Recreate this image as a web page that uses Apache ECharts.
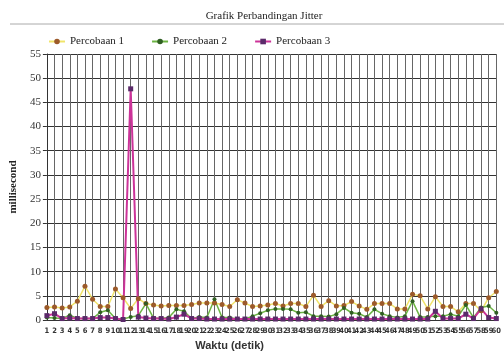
<!DOCTYPE html>
<html>
<head>
<meta charset="utf-8">
<script src="https://cdn.jsdelivr.net/npm/echarts@6/dist/echarts.min.js"></script>
<style>
html, body { margin: 0; padding: 0; background: #fff; }
#chart { width: 504px; height: 356px; }
</style>
</head>
<body>
<div id="chart"></div>
<script>
var detik = [];
for (var i = 1; i <= 60; i++) { detik.push(String(i)); }

var percobaan1 = [2.6, 2.7, 2.5, 2.7, 3.9, 7.0, 4.3, 2.8, 2.8, 6.4, 4.6, 2.4, 4.4, 3.4, 3.1, 2.9, 3.0, 3.0, 3.0, 3.2,
                  3.5, 3.5, 3.5, 3.2, 2.8, 4.2, 3.5, 2.8, 2.9, 3.1, 3.4, 2.9, 3.4, 3.4, 2.8, 5.1, 2.8, 4.0, 2.9, 3.0,
                  3.8, 2.9, 2.2, 3.4, 3.4, 3.4, 2.3, 2.3, 5.3, 5.0, 2.3, 4.8, 2.8, 2.8, 1.7, 3.4, 3.4, 1.9, 4.6, 5.9];
var percobaan2 = [0.5, 0.4, 0.3, 1.0, 0.3, 0.3, 0.3, 1.6, 2.0, 0.3, 0.2, 0.6, 0.9, 3.4, 0.4, 0.3, 0.5, 2.2, 1.8, 0.3,
                  0.6, 0.5, 4.3, 0.5, 0.5, 0.2, 0.2, 0.8, 1.4, 2.0, 2.3, 2.3, 2.2, 1.5, 1.6, 0.8, 0.8, 0.7, 1.2, 2.5,
                  1.5, 1.3, 0.6, 2.2, 1.3, 0.8, 0.5, 0.8, 3.9, 0.6, 0.6, 0.8, 0.8, 1.2, 0.8, 3.1, 0.5, 2.6, 2.9, 1.5];
var percobaan3 = [0.9, 1.3, 0.3, 0.4, 0.3, 0.3, 0.3, 0.5, 0.5, 0.3, 0.1, 47.8, 0.6, 0.4, 0.3, 0.3, 0.2, 0.6, 1.2, 0.3,
                  0.3, 0.2, 0.2, 0.2, 0.2, 0.2, 0.2, 0.2, 0.2, 0.2, 0.2, 0.2, 0.2, 0.2, 0.2, 0.2, 0.2, 0.2, 0.2, 0.2,
                  0.2, 0.2, 0.2, 0.2, 0.2, 0.2, 0.2, 0.2, 0.2, 0.2, 0.2, 1.8, 0.3, 0.3, 0.3, 1.2, 0.3, 2.3, 0.5, 0.3];

var myChart = echarts.init(document.getElementById('chart'));
var serif = 'Liberation Serif';

var option = {
    backgroundColor: '#fff',
    animation: false,
    title: {
        text: 'Grafik Perbandingan Jitter',
        left: 259,
        textAlign: 'center',
        top: 6,
        textStyle: { fontFamily: serif, fontSize: 11, fontWeight: 'normal', color: '#222' }
    },
    graphic: [{
        type: 'line',
        shape: { x1: 10, y1: 24, x2: 504, y2: 24 },
        style: { stroke: '#aaa', lineWidth: 1 }
    }],
    legend: {
        left: 43,
        top: 31,
        itemWidth: 16,
        itemHeight: 7,
        itemGap: 27,
        textStyle: { fontFamily: serif, fontSize: 11, color: '#222' },
        data: ['Percobaan 1', 'Percobaan 2', 'Percobaan 3']
    },
    grid: { left: 42, top: 54, bottom: 35, right: -2, containLabel: false },
    xAxis: {
        type: 'category',
        data: detik,
        boundaryGap: false,
        name: 'Waktu (detik)',
        nameLocation: 'middle',
        nameGap: 20,
        nameTextStyle: { fontFamily: 'Liberation Sans', fontSize: 11, fontWeight: 'bold', color: '#333', padding: [0, 84, 0, 0] },
        axisLine: { lineStyle: { color: '#333' } },
        axisTick: { show: false },
        axisLabel: { interval: 0, margin: 7, fontFamily: '"DejaVu Sans Condensed", "Liberation Sans"', fontSize: 7.5, fontWeight: 'bold', color: '#333' },
        splitLine: { show: true, interval: 0, lineStyle: { color: '#666', width: 1 } }
    },
    yAxis: {
        type: 'value',
        min: 0,
        max: 55,
        interval: 5,
        name: 'millisecond',
        nameLocation: 'middle',
        nameRotate: 90,
        nameGap: 27,
        nameTextStyle: { fontFamily: serif, fontSize: 11, fontWeight: 'bold', color: '#222' },
        axisLine: { show: true, lineStyle: { color: '#333' } },
        axisTick: { show: true, length: 4, lineStyle: { color: '#333' } },
        axisLabel: { margin: 6, fontFamily: serif, fontSize: 11, color: '#333' },
        splitLine: { show: true, lineStyle: { color: '#333', width: 1 } }
    },
    series: [
        {
            name: 'Percobaan 1',
            type: 'line',
            data: percobaan1,
            symbol: 'circle',
            symbolSize: 5,
            itemStyle: { color: '#9c5a2a' },
            lineStyle: { color: '#f0e46a', width: 1.5 }
        },
        {
            name: 'Percobaan 2',
            type: 'line',
            data: percobaan2,
            symbol: 'circle',
            symbolSize: 4,
            itemStyle: { color: '#2f5e22' },
            lineStyle: { color: '#6cb443', width: 1.5 }
        },
        {
            name: 'Percobaan 3',
            type: 'line',
            data: percobaan3,
            symbol: 'rect',
            symbolSize: 5,
            itemStyle: { color: '#5b2a6a' },
            lineStyle: { color: '#cc3399', width: 2 }
        }
    ]
};
myChart.setOption(option);
</script>
</body>
</html>
